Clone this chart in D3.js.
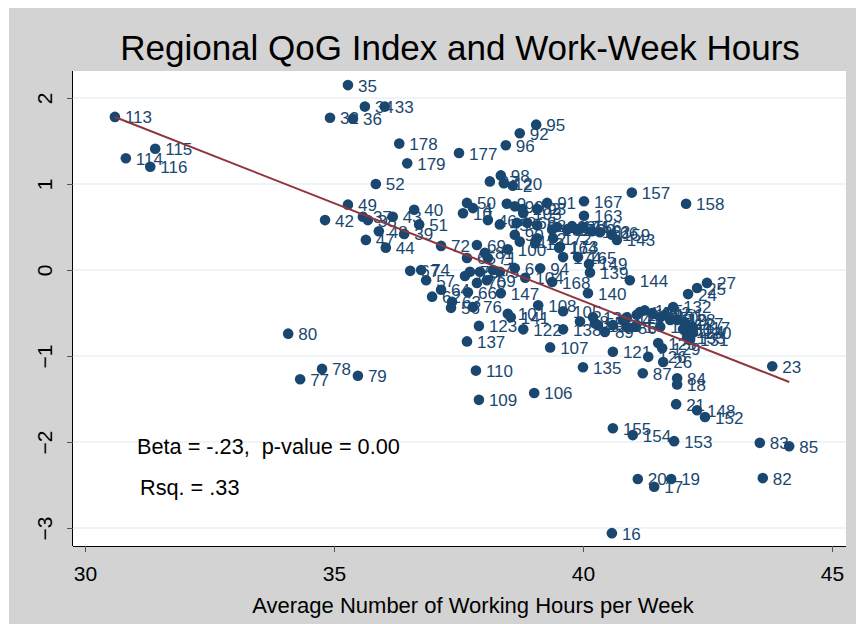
<!DOCTYPE html>
<html><head><meta charset="utf-8">
<script src="https://cdn.jsdelivr.net/npm/d3@7"></script>
<style>
body{margin:0;background:#fff}
svg{display:block;font-family:"Liberation Sans",Arial,Helvetica,sans-serif}
</style>
</head><body>
<svg id="chart" width="856" height="624"></svg>
<script>
// ---- data ----
const regionLabels = ["113","115","114","116","35","32","36","34","33","178","179","177","96","92","95","52","97","98","120","2",
"49","42","37","38","43","40","51","48","39","47","44","72","69","50","4","10","46","45","9","99",
"102","103","93","91","167","8","68","88","161","160","170","171","169","163","90","11","12","13","172","173",
"174","100","81","71","65","67","74","57","62","64","63","56","66","76","73","75","70","3","7","5",
"6","104","94","168","147","101","141","123","137","122","108","107","110","109","106","80","77","78","79","156",
"162","166","159","143","164","165","149","139","144","140","27","25","24","132","145","146","142","150","112","111",
"151","119","128","127","60","124","133","130","131","117","118","86","1","14","53","89","55","134","136","58",
"138","105","125","129","126","26","121","87","135","84","18","21","148","152","155","154","153","83","85","82",
"19","20","17","16","23","157","158","59"];
const workHours = [30.60,31.41,30.82,31.31,35.28,34.92,35.38,35.62,36.02,36.31,36.47,37.51,38.45,38.73,39.06,35.84,38.13,38.35,38.41,38.59,
35.28,34.82,35.58,35.68,36.18,36.61,36.71,35.90,36.41,35.64,36.04,37.15,37.87,37.67,37.79,37.59,38.09,38.33,38.47,38.63,
38.78,38.80,39.08,39.28,40.02,38.67,38.88,39.08,39.38,39.48,39.68,39.78,39.88,40.02,38.63,38.73,39.08,39.04,39.40,39.54,
39.60,38.49,38.03,38.09,37.67,36.53,36.75,36.85,36.97,37.15,37.37,37.35,37.69,37.79,37.63,37.73,37.87,37.93,38.19,38.33,
38.63,38.84,39.14,39.38,38.35,38.49,38.55,37.91,37.67,38.80,39.10,39.34,37.85,37.91,39.02,34.08,34.32,34.76,35.48,40.00,
40.18,40.34,40.58,40.68,39.52,39.90,40.12,40.14,40.94,40.10,42.49,42.29,42.11,41.81,41.24,41.14,41.39,41.55,40.88,41.08,
41.65,41.75,41.89,42.05,42.01,42.07,42.09,42.21,42.15,42.21,41.55,40.90,41.04,40.80,40.60,40.44,40.24,40.20,40.30,39.94,
39.60,39.60,41.51,41.59,41.31,41.61,40.60,41.20,40.00,41.89,41.89,41.87,42.29,42.45,40.60,41.00,41.83,43.55,44.14,43.61,
41.77,41.10,41.43,40.58,43.80,40.98,42.07,38.07];
const qogIndex = [1.78,1.41,1.30,1.20,2.15,1.77,1.76,1.90,1.90,1.47,1.24,1.36,1.45,1.59,1.69,1.00,1.03,1.10,1.01,0.98,
0.76,0.58,0.62,0.58,0.62,0.70,0.53,0.45,0.42,0.35,0.26,0.28,0.29,0.78,0.72,0.66,0.58,0.53,0.77,0.74,
0.71,0.66,0.71,0.78,0.80,0.55,0.55,0.52,0.47,0.50,0.47,0.51,0.47,0.63,0.41,0.33,0.37,0.31,0.37,0.27,
0.15,0.24,0.20,0.14,0.14,-0.01,0.00,-0.12,-0.31,-0.23,-0.37,-0.44,-0.26,-0.43,-0.07,-0.02,-0.15,-0.02,0.00,-0.02,
0.02,-0.09,0.02,-0.14,-0.27,-0.51,-0.55,-0.65,-0.83,-0.69,-0.41,-0.90,-1.17,-1.51,-1.43,-0.74,-1.27,-1.15,-1.23,0.50,
0.45,0.44,0.41,0.35,0.26,0.15,0.07,-0.03,-0.12,-0.27,-0.15,-0.21,-0.28,-0.43,-0.47,-0.49,-0.50,-0.55,-0.55,-0.52,
-0.52,-0.58,-0.58,-0.62,-0.69,-0.72,-0.78,-0.73,-0.81,-0.67,-0.66,-0.67,-0.66,-0.58,-0.64,-0.72,-0.62,-0.55,-0.64,-0.60,
-0.69,-0.48,-0.85,-0.91,-1.01,-1.07,-0.95,-1.20,-1.13,-1.26,-1.33,-1.56,-1.63,-1.71,-1.84,-1.92,-1.99,-2.01,-2.05,-2.42,
-2.43,-2.43,-2.52,-3.06,-1.12,0.90,0.77,-0.12];
const xTicks = [30, 35, 40, 45];
const yTicks = [-3, -2, -1, 0, 1, 2];
const fitIntercept = 8.74;
const fitSlope = -0.2275;
const titleText = "Regional QoG Index and Work-Week Hours";
const xTitleText = "Average Number of Working Hours per Week";
const statLines = ["Beta = -.23,  p-value = 0.00", "Rsq. = .33"];

// ---- layout / style ----
const W = 856, H = 624;
const plot = {left: 73, right: 846, top: 71, bottom: 546};
const navy = "#1a476f", maroon = "#90353b", grey = "#d3d3d3";

const svg = d3.select("#chart");
svg.append("rect").attr("x", 9).attr("y", 8).attr("width", W - 9).attr("height", H - 8).attr("fill", grey);
svg.append("rect").attr("x", plot.left).attr("y", plot.top)
   .attr("width", plot.right - plot.left).attr("height", plot.bottom - plot.top).attr("fill", "#fff");

const x = d3.scaleLinear().domain([30, 45]).range([85, 832]);
const y = d3.scaleLinear().domain([-3, 2]).range([528, 98]);

// grid
svg.append("g").selectAll("line").data(yTicks).join("line")
  .attr("x1", plot.left).attr("x2", plot.right)
  .attr("y1", d => y(d)).attr("y2", d => y(d))
  .attr("stroke", "#eaf2f3").attr("stroke-width", 1.5);

// axes
const xAxis = svg.append("g").attr("transform", `translate(0,${plot.bottom})`)
  .call(d3.axisBottom(x).tickValues(xTicks).tickFormat(d3.format("d")).tickSize(6).tickPadding(14).tickSizeOuter(0));
xAxis.select(".domain").attr("d", `M${plot.left},0.5H${plot.right}`).attr("stroke", "#000");
xAxis.selectAll(".tick line").attr("stroke", "#555");
xAxis.selectAll(".tick text").attr("font-size", 21).attr("fill", "#000").attr("font-family", "Liberation Sans, Arial, sans-serif");

const yAxis = svg.append("g").attr("transform", `translate(${plot.left},0)`)
  .call(d3.axisLeft(y).tickValues(yTicks).tickFormat(d3.format("d")).tickSize(6).tickSizeOuter(0));
yAxis.select(".domain").attr("d", `M-0.5,${plot.top}V${plot.bottom}`).attr("stroke", "#000");
yAxis.selectAll(".tick line").attr("stroke", "#555");
yAxis.selectAll(".tick text")
  .attr("font-size", 21).attr("fill", "#000").attr("font-family", "Liberation Sans, Arial, sans-serif")
  .attr("text-anchor", "middle").attr("x", 0).attr("dy", 0)
  .attr("transform", "translate(-21,0) rotate(-90)");

// points + labels
const pts = regionLabels.map((l, i) => ({label: l, hx: workHours[i], q: qogIndex[i]}));
const g = svg.append("g");
pts.forEach(p => {
  g.append("circle").attr("cx", x(p.hx)).attr("cy", y(p.q)).attr("r", 5.3).attr("fill", navy);
  g.append("text").attr("x", x(p.hx) + 10).attr("y", y(p.q)).attr("dy", "0.38em")
   .attr("font-size", 17).attr("fill", navy).text(p.label);
});

// fit line
const [xmin, xmax] = d3.extent(workHours);
svg.append("line")
  .attr("x1", x(xmin)).attr("y1", y(fitIntercept + fitSlope * xmin))
  .attr("x2", x(xmax)).attr("y2", y(fitIntercept + fitSlope * xmax))
  .attr("stroke", maroon).attr("stroke-width", 2);

// stats text
svg.append("text").attr("x", 137).attr("y", 454).attr("font-size", 21.7).style("white-space", "pre").text(statLines[0]);
svg.append("text").attr("x", 140).attr("y", 495).attr("font-size", 21.7).style("white-space", "pre").text(statLines[1]);

// titles
svg.append("text").attr("x", 460).attr("y", 60).attr("text-anchor", "middle").attr("font-size", 35).text(titleText);
svg.append("text").attr("x", 473).attr("y", 613).attr("text-anchor", "middle").attr("font-size", 22).text(xTitleText);
</script>
</body></html>
